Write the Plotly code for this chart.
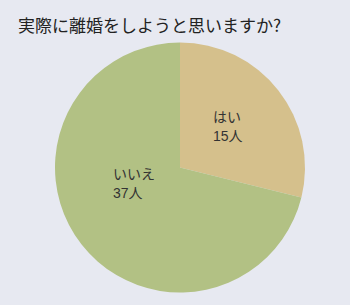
import plotly.graph_objects as go

labels = ["はい", "いいえ"]
values = [15, 37]
unit = "人"
colors = ["#d5c08c", "#b2c184"]
title = "実際に離婚をしようと思いますか?"

fig = go.Figure(go.Pie(
    labels=labels, values=values, sort=False, direction="clockwise", rotation=0,
    marker=dict(colors=colors, line=dict(width=0)),
    textinfo="none", hoverinfo="skip", showlegend=False,
    domain=dict(x=[55/350, 305/350], y=[12/305, 263/305]),
))

label_pos = [(211, 117), (111, 174)]
lfont = dict(family="Liberation Sans, Noto Sans CJK JP", size=14, color="#333333")
for (lx, ly), lab, val in zip(label_pos, labels, values):
    for i, txt in enumerate([lab, f"{val}{unit}"]):
        fig.add_annotation(
            x=lx/350, y=1 - (ly + 19*i)/305, xref="paper", yref="paper",
            xanchor="left", yanchor="middle", align="left", showarrow=False,
            text=txt, font=lfont,
        )

fig.add_annotation(
    x=16/350, y=1 - 10/305, xref="paper", yref="paper",
    xanchor="left", yanchor="top", showarrow=False, text=title,
    font=dict(family="Noto Sans CJK JP", size=17, color="#222222"),
)

fig.update_layout(
    width=350, height=305, margin=dict(l=0, r=0, t=0, b=0),
    paper_bgcolor="#e7e9f1", plot_bgcolor="#e7e9f1",
)
fig.write_html("out.html")
